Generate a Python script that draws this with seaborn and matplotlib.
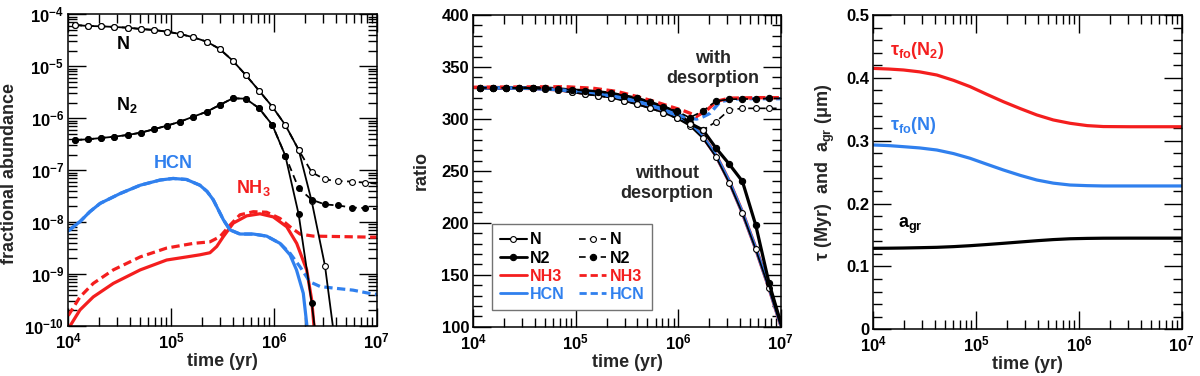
import numpy as np
import matplotlib
matplotlib.use("Agg")
import matplotlib.pyplot as plt
from matplotlib.lines import Line2D
from matplotlib.ticker import LogLocator, MultipleLocator, NullFormatter, FuncFormatter
import seaborn as sns

sns.set_style("ticks")
plt.rcParams['font.family'] = ['Liberation Sans', 'DejaVu Sans']
plt.rcParams['font.weight'] = 'bold'
plt.rcParams['axes.labelweight'] = 'bold'
plt.rcParams['mathtext.fontset'] = 'custom'
plt.rcParams['mathtext.rm'] = 'Liberation Sans:bold'
plt.rcParams['mathtext.bf'] = 'Liberation Sans:bold'
plt.rcParams['mathtext.default'] = 'regular'

RED = '#f41e1e'
BLUE = '#3080ee'

# ---- panel 1: fractional abundance, log10(time/yr) and log10(abundance)
T_GRID = [4.065, 4.192, 4.321, 4.447, 4.578, 4.704, 4.831, 4.960, 5.087, 5.216,
          5.347, 5.473, 5.600, 5.726, 5.856, 5.985, 6.111, 6.241]
N_EARLY = [-4.206, -4.225, -4.231, -4.244, -4.258, -4.283, -4.302, -4.335, -4.379, -4.443,
           -4.527, -4.668, -4.893, -5.168, -5.471, -5.779, -6.131, -6.610]
N_SOLID_TAIL_T = [6.368, 6.497, 6.600]
N_SOLID_TAIL = [-7.60, -8.84, -10.40]
N_DASH_TAIL_T = [6.368, 6.497, 6.626, 6.756, 6.885, 7.0]
N_DASH_TAIL = [-7.04, -7.18, -7.21, -7.22, -7.24, -7.26]

N2_EARLY = [-6.420, -6.406, -6.381, -6.356, -6.323, -6.279, -6.214, -6.144, -6.067, -5.971,
            -5.875, -5.746, -5.617, -5.625, -5.809, -6.131, -6.720]
N2_SOLID_TAIL_T = [6.241, 6.368, 6.420]
N2_SOLID_TAIL = [-7.85, -9.56, -10.40]
N2_DASH_TAIL_T = [6.241, 6.368, 6.497, 6.626, 6.756, 6.885, 7.0]
N2_DASH_TAIL = [-7.35, -7.57, -7.66, -7.68, -7.72, -7.73, -7.75]

HCN_T = [4.0, 4.114, 4.21, 4.31, 4.505, 4.70, 4.894, 5.02, 5.15, 5.28, 5.35, 5.41, 5.51,
         5.573, 5.67, 5.80, 5.93, 6.06, 6.157, 6.22, 6.286, 6.319, 6.33]
HCN_SOLID = [-8.17, -7.99, -7.80, -7.64, -7.45, -7.29, -7.19, -7.16, -7.18, -7.29, -7.41, -7.57,
             -7.96, -8.15, -8.23, -8.23, -8.27, -8.41, -8.63, -8.92, -9.37, -9.95, -10.2]
HCN_DASH_T = [4.0, 4.114, 4.21, 4.31, 4.505, 4.70, 4.894, 5.02, 5.15, 5.28, 5.35, 5.41, 5.51,
              5.573, 5.67, 5.80, 5.93, 6.06, 6.157, 6.254, 6.35, 6.45, 6.578, 6.77, 6.95, 7.0]
HCN_DASH = [-8.17, -7.99, -7.80, -7.64, -7.45, -7.29, -7.19, -7.16, -7.18, -7.29, -7.41, -7.57,
            -7.96, -8.15, -8.23, -8.23, -8.27, -8.41, -8.60, -8.86, -9.15, -9.24, -9.27, -9.31,
            -9.38, -9.39]

NH3_SOLID_T = [3.99, 4.017, 4.114, 4.243, 4.438, 4.70, 4.957, 5.152, 5.28, 5.378, 5.444, 5.508,
               5.605, 5.735, 5.865, 5.994, 6.125, 6.222, 6.319, 6.368, 6.39, 6.40]
NH3_SOLID = [-10.2, -10.0, -9.69, -9.44, -9.18, -8.92, -8.73, -8.67, -8.63, -8.59, -8.47, -8.28,
             -8.02, -7.88, -7.84, -7.90, -8.09, -8.41, -8.92, -9.50, -10.0, -10.3]
NH3_DASH_T = [4.0, 4.114, 4.243, 4.438, 4.70, 4.957, 5.216, 5.378, 5.476, 5.573, 5.67, 5.80,
              5.93, 6.06, 6.157, 6.254, 6.383, 6.675, 6.95, 7.0]
NH3_DASH = [-9.80, -9.44, -9.18, -8.92, -8.67, -8.50, -8.41, -8.38, -8.28, -8.06, -7.86, -7.80,
            -7.81, -7.93, -8.09, -8.23, -8.27, -8.28, -8.29, -8.29]

# ---- panel 2: ratio vs log10(time/yr)
R_GRID = [4.065, 4.192, 4.321, 4.447, 4.578, 4.704, 4.831, 4.960, 5.087, 5.216, 5.347, 5.473,
          5.600, 5.726, 5.856, 5.985, 6.111, 6.241, 6.368, 6.497, 6.626, 6.756, 6.885, 7.0]
R_N_SOLID = [330.0, 330.0, 329.9, 329.7, 329.3, 328.6, 327.4, 325.6, 324.0, 322.3, 320.4, 317.2,
             314.0, 310.2, 306.0, 300.6, 293.5, 281.3, 263.6, 238.6, 209.1, 174.5, 137.0, 101.0]
R_N_DASH = [330.0, 330.0, 329.9, 329.7, 329.3, 328.6, 327.4, 325.6, 324.0, 322.3, 320.4, 317.2,
            314.0, 310.2, 306.0, 300.6, 294.8, 289.3, 297.3, 308.6, 310.2, 310.2, 310.2, 310.2]
R_N2_SOLID = [330.0, 330.0, 330.0, 330.0, 330.0, 329.8, 329.0, 327.8, 327.2, 326.2, 324.6, 322.3,
              319.8, 316.0, 311.8, 306.5, 296.0, 289.3, 272.0, 256.6, 240.0, 197.9, 142.4, 104.0]
R_N2_DASH = [330.0, 330.0, 330.0, 330.0, 330.0, 329.8, 329.0, 327.8, 327.2, 326.2, 324.6, 322.3,
             319.8, 316.0, 311.8, 307.6, 301.2, 307.6, 317.2, 318.9, 319.2, 319.2, 319.8, 319.8]
R_HCN_SOLID = [330.0, 330.0, 329.9, 329.8, 329.5, 329.0, 328.2, 326.6, 325.0, 323.5, 322.0, 319.5,
               316.5, 313.0, 308.5, 303.0, 296.0, 283.0, 265.0, 240.0, 210.0, 175.5, 138.0, 102.0]
R_HCN_DASH_T = [4.065, 4.447, 4.831, 4.960, 5.087, 5.216, 5.347, 5.473, 5.600, 5.726, 5.856,
                5.985, 6.111, 6.18, 6.241, 6.31, 6.41, 6.54, 6.70, 7.0]
R_HCN_DASH = [330.0, 329.8, 328.2, 326.8, 325.3, 323.8, 322.3, 319.8, 317.0, 313.5, 309.0,
              304.0, 300.5, 299.9, 302.0, 305.4, 316.6, 319.2, 319.5, 319.5]
R_NH3_DASH_T = [4.0, 4.5, 4.9, 5.17, 5.4, 5.6, 5.76, 5.92, 6.05, 6.115, 6.18, 6.28, 6.375, 6.5,
                6.8, 7.0]
R_NH3_DASH = [330.5, 330.8, 331.0, 329.5, 326.5, 321.5, 317.0, 312.0, 308.0, 305.5, 302.5, 308.5,
              317.0, 320.0, 320.5, 320.5]

# ---- panel 3: timescales and grain size
P3_T = [4.0, 4.15, 4.292, 4.45, 4.617, 4.78, 4.941, 5.10, 5.265, 5.43, 5.589, 5.75, 5.913,
        6.08, 6.237, 6.5, 7.0]
TAU_N2 = [0.415, 0.414, 0.4125, 0.4095, 0.4045, 0.396, 0.386, 0.374, 0.362, 0.351, 0.341,
          0.333, 0.3277, 0.324, 0.3225, 0.3222, 0.3222]
TAU_N = [0.2932, 0.2922, 0.2905, 0.2885, 0.2852, 0.2795, 0.272, 0.2628, 0.2534, 0.2448, 0.2375,
         0.2325, 0.2295, 0.2285, 0.228, 0.228, 0.228]
A_GR = [0.1288, 0.1290, 0.1293, 0.1298, 0.1304, 0.1315, 0.1330, 0.1348, 0.1368, 0.1389, 0.1409,
        0.1427, 0.1440, 0.1446, 0.1449, 0.1450, 0.1450]


def yr(logt):
    return 10 ** np.asarray(logt, dtype=float)


def style_axes(ax):
    ax.set_xscale('log')
    ax.set_xlim(1e4, 1e7)
    ax.xaxis.set_major_locator(LogLocator(base=10, numticks=10))
    ax.xaxis.set_minor_locator(LogLocator(base=10, subs=np.arange(2, 10), numticks=40))
    ax.xaxis.set_minor_formatter(NullFormatter())
    ax.tick_params(which='both', direction='in', top=True, right=True, width=1.0,
                   labelsize=12, colors='k')
    ax.tick_params(which='major', length=13)
    ax.tick_params(which='minor', length=6.5)
    ax.tick_params(axis='x', pad=4)
    ax.tick_params(axis='y', pad=3)
    for s in ax.spines.values():
        s.set_linewidth(1.1)
        s.set_color('k')
    ax.set_xlabel('time (yr)', fontsize=13, labelpad=1)


def line(ax, t, v, color, lw, ls='-', logy=False, **kw):
    vals = 10 ** np.asarray(v, dtype=float) if logy else np.asarray(v, dtype=float)
    sns.lineplot(x=yr(t), y=vals, ax=ax, color=color, lw=lw, linestyle=ls, sort=True, **kw)


def plot_abundance(ax):
    ax.set_yscale('log')
    ax.set_ylim(1e-10, 1e-4)
    open_kw = dict(marker='o', markersize=4.2, markerfacecolor='white', markeredgecolor='k',
                   markeredgewidth=0.8)
    fill_kw = dict(marker='o', markersize=4.2, markerfacecolor='k', markeredgecolor='k',
                   markeredgewidth=0.8)
    dash_k = (0, (4, 2.5))
    dash_c = (0, (2.6, 1.4))
    line(ax, NH3_SOLID_T, NH3_SOLID, RED, 2.3, logy=True)
    line(ax, NH3_DASH_T, NH3_DASH, RED, 2.3, ls=dash_c, logy=True)
    line(ax, HCN_T, HCN_SOLID, BLUE, 2.3, logy=True)
    line(ax, HCN_DASH_T, HCN_DASH, BLUE, 2.3, ls=dash_c, logy=True)
    line(ax, T_GRID + N_SOLID_TAIL_T, N_EARLY + N_SOLID_TAIL, 'k', 1.3, logy=True, **open_kw)
    line(ax, T_GRID + N_DASH_TAIL_T, N_EARLY + N_DASH_TAIL, 'k', 1.3, ls=dash_k, logy=True,
         markevery=slice(0, -1), **open_kw)
    line(ax, T_GRID[:-1] + N2_SOLID_TAIL_T, N2_EARLY + N2_SOLID_TAIL, 'k', 1.3, logy=True,
         **fill_kw)
    line(ax, T_GRID[:-1] + N2_DASH_TAIL_T, N2_EARLY + N2_DASH_TAIL, 'k', 1.3, ls=dash_k,
         logy=True, markevery=slice(0, -1), **fill_kw)

    ax.yaxis.set_major_locator(LogLocator(base=10, numticks=20))
    ax.yaxis.set_minor_locator(LogLocator(base=10, subs=np.arange(2, 10), numticks=100))
    ax.yaxis.set_minor_formatter(NullFormatter())
    ax.set_ylabel('fractional abundance', fontsize=13)
    ax.yaxis.set_label_coords(-0.163, 0.49)

    tk = dict(transform=ax.transAxes, fontsize=13, fontweight='bold', va='baseline', ha='left')
    ax.text(0.158, 0.889, 'N', color='k', **tk)
    ax.text(0.155, 0.693, 'N$_2$', color='k', **tk)
    ax.text(0.278, 0.507, 'HCN', color=BLUE, **tk)
    ax.text(0.544, 0.427, 'NH$_3$', color=RED, **tk)


def plot_ratio(ax):
    open_kw = dict(marker='o', markersize=4.2, markerfacecolor='white', markeredgecolor='k',
                   markeredgewidth=0.8)
    fill_kw = dict(marker='o', markersize=4.5, markerfacecolor='k', markeredgecolor='k',
                   markeredgewidth=0.8)
    dash_k = (0, (4, 2.5))
    dash_c = (0, (2.6, 1.4))
    line(ax, R_GRID, R_HCN_SOLID, RED, 2.8)
    line(ax, R_GRID, R_HCN_SOLID, BLUE, 2.4)
    line(ax, R_GRID, R_N_SOLID, 'k', 1.2, markevery=slice(0, -1), **open_kw)
    line(ax, R_GRID, R_N2_SOLID, 'k', 2.3, markevery=slice(0, -1), **fill_kw)
    line(ax, R_HCN_DASH_T, R_HCN_DASH, BLUE, 2.4, ls=dash_c)
    line(ax, R_NH3_DASH_T, R_NH3_DASH, RED, 2.4, ls=dash_c)
    line(ax, R_GRID, R_N_DASH, 'k', 1.2, ls=dash_k, markevery=slice(0, -1), **open_kw)
    line(ax, R_GRID, R_N2_DASH, 'k', 1.2, ls=dash_k, markevery=slice(0, -1), **fill_kw)

    ax.set_ylim(100, 400)
    ax.yaxis.set_major_locator(MultipleLocator(50))
    ax.yaxis.set_minor_locator(MultipleLocator(10))
    ax.set_ylabel('ratio', fontsize=13)
    ax.yaxis.set_label_coords(-0.141, 0.5)

    tk = dict(transform=ax.transAxes, fontsize=13, fontweight='bold', va='top', ha='center',
              linespacing=1.2)
    ax.text(0.78, 0.888, 'with\ndesorption', **tk)
    ax.text(0.63, 0.519, 'without\ndesorption', **tk)

    handles = [
        Line2D([], [], color='k', lw=1.5, **open_kw),
        Line2D([], [], color='k', lw=2.0, **fill_kw),
        Line2D([], [], color=RED, lw=2.0),
        Line2D([], [], color=BLUE, lw=2.0),
        Line2D([], [], color='k', lw=1.2, ls=dash_k, **open_kw),
        Line2D([], [], color='k', lw=1.2, ls=dash_k, **fill_kw),
        Line2D([], [], color=RED, lw=2.0, ls=dash_c),
        Line2D([], [], color=BLUE, lw=2.0, ls=dash_c),
    ]
    labels = ['N', 'N2', 'NH3', 'HCN', 'N', 'N2', 'NH3', 'HCN']
    ax.legend(handles, labels, ncol=2, loc='lower left', bbox_to_anchor=(0.06, 0.054),
              handlelength=1.7, handletextpad=0.2, columnspacing=0.9, labelspacing=0.2,
              borderpad=0.5, borderaxespad=0, fancybox=False, framealpha=1, edgecolor='0.45',
              labelcolor=['k', 'k', RED, BLUE, 'k', 'k', RED, BLUE],
              prop=dict(weight='bold', size=11.5))


def plot_timescales(ax):
    line(ax, P3_T, TAU_N2, RED, 2.3)
    line(ax, P3_T, TAU_N, BLUE, 2.3)
    line(ax, P3_T, A_GR, 'k', 2.3)
    ax.set_ylim(0, 0.5)
    ax.yaxis.set_major_locator(MultipleLocator(0.1))
    ax.yaxis.set_minor_locator(MultipleLocator(0.02))
    ax.yaxis.set_major_formatter(FuncFormatter(lambda v, p: '0' if abs(v) < 1e-9 else f'{v:.1f}'))
    ax.set_ylabel('τ (Myr)  and  a$_{gr}$ (μm)', fontsize=13)
    ax.yaxis.set_label_coords(-0.118, 0.5)

    tk = dict(transform=ax.transAxes, fontsize=13, fontweight='bold', va='baseline', ha='left')
    ax.text(0.054, 0.873, 'τ$_{fo}$(N$_2$)', color=RED, **tk)
    ax.text(0.054, 0.634, 'τ$_{fo}$(N)', color=BLUE, **tk)
    ax.text(0.079, 0.322, 'a$_{gr}$', color='k', **tk)


fig = plt.figure(figsize=(12, 3.76), dpi=100)
ax1 = fig.add_axes([0.0569, 0.133, 0.257, 0.829])
ax2 = fig.add_axes([0.3944, 0.131, 0.2562, 0.829])
ax3 = fig.add_axes([0.7278, 0.1242, 0.257, 0.836])
for a in (ax1, ax2, ax3):
    style_axes(a)
plot_abundance(ax1)
plot_ratio(ax2)
plot_timescales(ax3)
for a in (ax1, ax2, ax3):
    a.set_xlim(1e4, 1e7)

fig.savefig('out.png', dpi=100, facecolor='white')
